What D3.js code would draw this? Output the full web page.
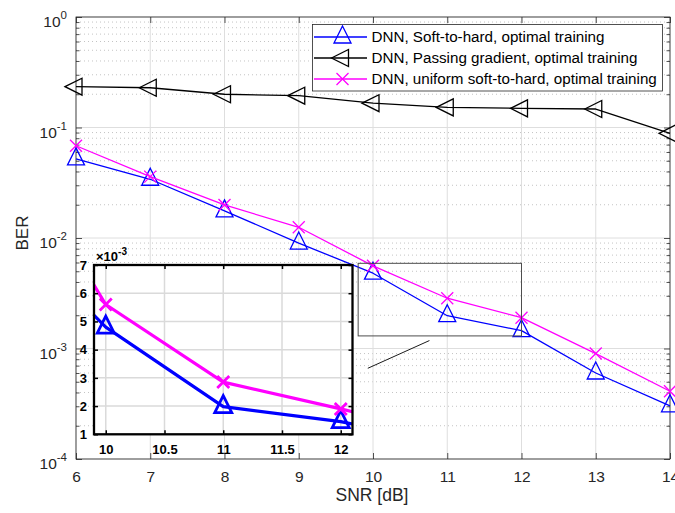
<!DOCTYPE html>
<html>
<head>
<meta charset="utf-8">
<script src="https://cdn.jsdelivr.net/npm/d3@7"></script>
<style>
  html, body { margin: 0; padding: 0; background: #fff; }
  svg { display: block; font-family: "Liberation Sans", Arial, Helvetica, sans-serif; }
</style>
</head>
<body>
<svg id="chart" width="675" height="513"></svg>
<script>
// SNR points (dB) and bit error rates per receiver variant
const snr = [6, 7, 8, 9, 10, 11, 12, 13, 14];
const berSoftToHard = [0.052, 0.034, 0.0176, 0.0090, 0.0048, 0.00198, 0.00145, 0.00060, 0.000303];
const berPassingGradient = [0.234, 0.229, 0.200, 0.194, 0.166, 0.152, 0.149, 0.147, 0.0886];
const berUniformSoftToHard = [0.0684, 0.0359, 0.0199, 0.0125, 0.0056, 0.00285, 0.0019, 0.0009, 0.00041];

const seriesNames = [
  "DNN, Soft-to-hard, optimal training",
  "DNN, Passing gradient, optimal training",
  "DNN, uniform soft-to-hard, optimal training"
];

const xTicks = [6, 7, 8, 9, 10, 11, 12, 13, 14];
const yDecades = [-4, -3, -2, -1, 0];

// zoomed inset
const insetXDomain = [9.9, 12.1];
const insetXTicks = [10, 10.5, 11, 11.5, 12];
const insetYTicks = [1, 2, 3, 4, 5, 6, 7];   // in units of 1e-3
const insetScale = 1e-3;

// zoom rectangle on the main axes and its connector
const zoomBoxX = [9.8, 12];
const zoomBoxY = [0.0013, 0.0059];
const connectorX = [9.93, 10.76];
const connectorY = [0.000662, 0.00118];

const svg = d3.select("#chart");
const axisColor = "#262626";
const blue = "#0000ff", black = "#000000", magenta = "#ff00ff";

// ---------- main axes ----------
const x = d3.scaleLinear().domain([6, 14]).range([76, 670]);
const y = d3.scaleLog().domain([1e-4, 1]).range([459, 17]);
const [L, R] = x.range();
const [B, T] = y.range();

const minorVals = [];
yDecades.slice(0, -1).forEach(e => {
  for (let k = 2; k <= 9; k++) minorVals.push(k * Math.pow(10, e));
});
const majorVals = yDecades.map(e => Math.pow(10, e));

const grid = svg.append("g");
grid.selectAll(".minor").data(minorVals).join("line")
  .attr("x1", L).attr("x2", R)
  .attr("y1", d => y(d)).attr("y2", d => y(d))
  .attr("stroke", "#c4c4c4").attr("stroke-width", 1)
  .attr("stroke-dasharray", "1,3");
grid.selectAll(".xg").data(xTicks).join("line")
  .attr("x1", d => x(d)).attr("x2", d => x(d))
  .attr("y1", T).attr("y2", B)
  .attr("stroke", "#dedede").attr("stroke-width", 1);
grid.selectAll(".yg").data(majorVals).join("line")
  .attr("x1", L).attr("x2", R)
  .attr("y1", d => y(d)).attr("y2", d => y(d))
  .attr("stroke", "#dedede").attr("stroke-width", 1);

// axes with inward ticks
const gx = svg.append("g").attr("transform", `translate(0,${B})`)
  .call(d3.axisBottom(x).tickValues(xTicks).tickSizeInner(-6).tickSizeOuter(0).tickPadding(12).tickFormat(d3.format("d")));
const gxTop = svg.append("g").attr("transform", `translate(0,${T})`)
  .call(d3.axisTop(x).tickValues(xTicks).tickSizeInner(-6).tickSizeOuter(0).tickFormat(""));
const gy = svg.append("g").attr("transform", `translate(${L},0)`)
  .call(d3.axisLeft(y).tickValues(majorVals).tickSizeInner(-6).tickSizeOuter(0).tickPadding(16).tickFormat(""));
const gyMinor = svg.append("g").attr("transform", `translate(${L},0)`)
  .call(d3.axisLeft(y).tickValues(minorVals).tickSizeInner(-3.5).tickSizeOuter(0).tickFormat(""));
const gyR = svg.append("g").attr("transform", `translate(${R},0)`)
  .call(d3.axisRight(y).tickValues(majorVals).tickSizeInner(-6).tickSizeOuter(0).tickFormat(""));
const gyRMinor = svg.append("g").attr("transform", `translate(${R},0)`)
  .call(d3.axisRight(y).tickValues(minorVals).tickSizeInner(-3.5).tickSizeOuter(0).tickFormat(""));

[gx, gxTop, gy, gyMinor, gyR, gyRMinor].forEach(g => {
  g.select(".domain").remove();
  g.selectAll(".tick line").attr("stroke", axisColor).attr("stroke-width", 0.8);
});
gx.selectAll(".tick text").attr("font-size", 15.5).attr("fill", axisColor)
  .attr("font-family", "Liberation Sans, Arial, sans-serif");

// decade labels as 10 with superscript exponent
gy.selectAll(".tick").each(function(d) {
  const e = Math.round(Math.log10(d));
  const t = d3.select(this).append("text")
    .attr("x", -9).attr("y", 9.5)
    .attr("text-anchor", "end")
    .attr("fill", axisColor)
    .attr("font-size", 15.5);
  t.append("tspan").text("10");
  t.append("tspan").attr("dy", -8).attr("font-size", 11.5).text(String(e));
});

// frame
svg.append("rect").attr("x", L).attr("y", T).attr("width", R - L).attr("height", B - T)
  .attr("fill", "none").attr("stroke", axisColor).attr("stroke-width", 0.8);

// axis titles
svg.append("text").attr("x", (L + R) / 2 - 1).attr("y", 501)
  .attr("text-anchor", "middle").attr("font-size", 17.5).attr("fill", axisColor)
  .text("SNR [dB]");
svg.append("text").attr("transform", "translate(28,233) rotate(-90)")
  .attr("text-anchor", "middle").attr("font-size", 17).attr("fill", axisColor)
  .text("BER");

// ---------- markers ----------
function triUp(s) { return `M0,${-11 * s}L${8.5 * s},${6 * s}L${-8.5 * s},${6 * s}Z`; }
function triLeft(s) { return `M${-11 * s},0L${6 * s},${-8.5 * s}L${6 * s},${8.5 * s}Z`; }
function cross(s) { return `M${-6 * s},${-6 * s}L${6 * s},${6 * s}M${-6 * s},${6 * s}L${6 * s},${-6 * s}`; }

const series = [
  { name: seriesNames[0], values: berSoftToHard, color: blue, marker: triUp },
  { name: seriesNames[1], values: berPassingGradient, color: black, marker: triLeft },
  { name: seriesNames[2], values: berUniformSoftToHard, color: magenta, marker: cross }
];

function drawSeries(g, sx, sy, width, markerScale, markerWidth) {
  series.forEach(s => {
    const pts = snr.map((v, i) => [v, s.values[i]]);
    g.append("path")
      .attr("d", d3.line().x(d => sx(d[0])).y(d => sy(d[1]))(pts))
      .attr("fill", "none").attr("stroke", s.color).attr("stroke-width", width)
      .attr("stroke-linejoin", "round");
    g.selectAll(null).data(pts).join("path")
      .attr("transform", d => `translate(${sx(d[0])},${sy(d[1])})`)
      .attr("d", s.marker(markerScale))
      .attr("fill", "none").attr("stroke", s.color).attr("stroke-width", markerWidth);
  });
}

const mainPlot = svg.append("g");
drawSeries(mainPlot, x, y, 1.3, 1, 1.3);

// ---------- legend ----------
const lg = svg.append("g");
lg.append("rect").attr("x", 312.5).attr("y", 24.5).attr("width", 350).attr("height", 66.5)
  .attr("fill", "#fff").attr("stroke", "#262626").attr("stroke-width", 0.8);
const legendY = [37, 58, 79];
series.forEach((s, i) => {
  const gy0 = legendY[i];
  lg.append("line").attr("x1", 314).attr("x2", 367).attr("y1", gy0).attr("y2", gy0)
    .attr("stroke", s.color).attr("stroke-width", 1.3);
  lg.append("path").attr("transform", `translate(342.5,${gy0})`).attr("d", s.marker(1))
    .attr("fill", "none").attr("stroke", s.color).attr("stroke-width", 1.3);
  lg.append("text").attr("x", 371.5).attr("y", gy0 + 5.4)
    .attr("font-size", 15.2).attr("fill", "#000").text(s.name);
});

// ---------- zoom box and connector ----------
svg.append("rect")
  .attr("x", x(zoomBoxX[0])).attr("y", y(zoomBoxY[1]))
  .attr("width", x(zoomBoxX[1]) - x(zoomBoxX[0]))
  .attr("height", y(zoomBoxY[0]) - y(zoomBoxY[1]))
  .attr("fill", "none").attr("stroke", "#4d4d4d").attr("stroke-width", 1);
svg.append("line")
  .attr("x1", x(connectorX[0])).attr("y1", y(connectorY[0]))
  .attr("x2", x(connectorX[1])).attr("y2", y(connectorY[1]))
  .attr("stroke", "#1a1a1a").attr("stroke-width", 1);

// ---------- inset ----------
const ix = d3.scaleLinear().domain(insetXDomain).range([94, 352.5]);
const iy = d3.scaleLinear().domain([insetYTicks[0] * insetScale, insetYTicks[insetYTicks.length - 1] * insetScale]).range([434.3, 265]);
const [iL, iR] = ix.range();
const [iB, iT] = iy.range();

const inset = svg.append("g");
inset.append("rect").attr("x", iL).attr("y", iT).attr("width", iR - iL).attr("height", iB - iT)
  .attr("fill", "#fff");
inset.selectAll(".ixg").data(insetXTicks).join("line")
  .attr("x1", d => ix(d)).attr("x2", d => ix(d)).attr("y1", iT).attr("y2", iB)
  .attr("stroke", "#dadada").attr("stroke-width", 1.5);
inset.selectAll(".iyg").data(insetYTicks).join("line")
  .attr("x1", iL).attr("x2", iR).attr("y1", d => iy(d * insetScale)).attr("y2", d => iy(d * insetScale))
  .attr("stroke", "#dadada").attr("stroke-width", 1.5);

svg.append("defs").append("clipPath").attr("id", "insetClip")
  .append("rect").attr("x", iL).attr("y", iT).attr("width", iR - iL).attr("height", iB - iT);
const insetPlot = inset.append("g").attr("clip-path", "url(#insetClip)");
drawSeries(insetPlot, ix, iy, 3.2, 1, 2.8);

const igx = inset.append("g").attr("transform", `translate(0,${iB})`)
  .call(d3.axisBottom(ix).tickValues(insetXTicks).tickSizeInner(-4).tickSizeOuter(0).tickPadding(10)
    .tickFormat(d => String(d)));
const igxT = inset.append("g").attr("transform", `translate(0,${iT})`)
  .call(d3.axisTop(ix).tickValues(insetXTicks).tickSizeInner(-4).tickSizeOuter(0).tickFormat(""));
const igy = inset.append("g").attr("transform", `translate(${iL},0)`)
  .call(d3.axisLeft(iy).tickValues(insetYTicks.map(v => v * insetScale)).tickSizeInner(-4).tickSizeOuter(0).tickPadding(7)
    .tickFormat(d => String(Math.round(d / insetScale))));
const igyR = inset.append("g").attr("transform", `translate(${iR},0)`)
  .call(d3.axisRight(iy).tickValues(insetYTicks.map(v => v * insetScale)).tickSizeInner(-4).tickSizeOuter(0).tickFormat(""));
[igx, igxT, igy, igyR].forEach(g => {
  g.select(".domain").remove();
  g.selectAll(".tick line").attr("stroke", "#000").attr("stroke-width", 1.5);
  g.selectAll(".tick text").attr("font-size", 13).attr("font-weight", "bold").attr("fill", "#000")
    .attr("font-family", "Liberation Sans, Arial, sans-serif");
});
inset.append("rect").attr("x", iL).attr("y", iT).attr("width", iR - iL).attr("height", iB - iT)
  .attr("fill", "none").attr("stroke", "#000").attr("stroke-width", 2.3);

// exponent multiplier above the inset y axis
const mult = inset.append("text").attr("x", 96).attr("y", 261)
  .attr("font-size", 13).attr("font-weight", "bold").attr("fill", "#000");
mult.append("tspan").text("\u00d710");
mult.append("tspan").attr("dy", -6).attr("font-size", 10).text("-3");
</script>
</body>
</html>
